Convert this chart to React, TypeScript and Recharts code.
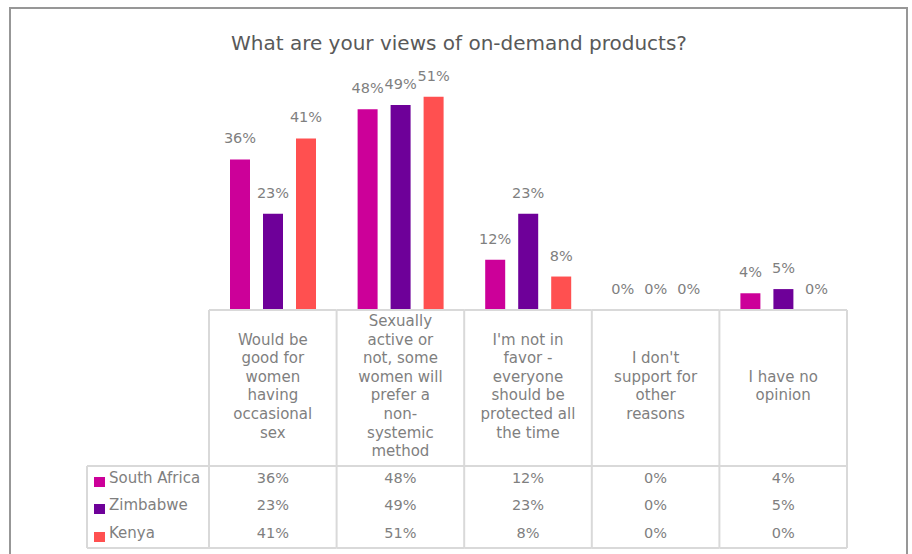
import React from "react";
import { BarChart, Bar, XAxis, YAxis, LabelList } from "recharts";

const FONT = "'DejaVu Sans', Verdana, sans-serif";

const title = "What are your views of on-demand products?";
const categories = [
  "Would be good for women having occasional sex",
  "Sexually active or not, some women will prefer a non-systemic method",
  "I'm not in favor - everyone should be protected all the time",
  "I don't support for other reasons",
  "I have no opinion",
];
const categoryLines = [
  ["Would be", "good for", "women", "having", "occasional", "sex"],
  ["Sexually", "active or", "not, some", "women will", "prefer a", "non-", "systemic", "method"],
  ["I'm not in", "favor -", "everyone", "should be", "protected all", "the time"],
  ["I don't", "support for", "other", "reasons"],
  ["I have no", "opinion"],
];
const seriesNames = ["South Africa", "Zimbabwe", "Kenya"];
const southAfrica = [36, 48, 12, 0, 4];
const zimbabwe = [23, 49, 23, 0, 5];
const kenya = [41, 51, 8, 0, 0];
const seriesValues = [southAfrica, zimbabwe, kenya];
const seriesKeys = ["sa", "zw", "ke"];
const seriesColors = ["#CC0099", "#6E0099", "#FF5050"];

const data = categories.map((c, i) => ({
  category: c,
  sa: southAfrica[i],
  zw: zimbabwe[i],
  ke: kenya[i],
}));

// layout
const W = 912;
const H = 554;
const PLOT_LEFT = 209;
const PLOT_RIGHT = 847;
const PLOT_TOP = 59;
const TABLE_TOP = 310;
const ROW_SEP = 466;
const TABLE_BOTTOM = 548;
const LEGEND_LEFT = 87;
const ROW_CENTERS = [478, 505, 533];
const LINE_H = 18.6;
const CELL_CENTER = 386;
const GRID = "#D9D9D9";
const TEXT = "#7F7F7F";
const BAND = (PLOT_RIGHT - PLOT_LEFT) / categories.length;

const renderTick = (props: any) => {
  const { x, index } = props;
  const cx = Number(x);
  const l = cx - BAND / 2;
  const r = cx + BAND / 2;
  const lines = categoryLines[index] || [];
  const startY =
    lines.length > 7 ? TABLE_TOP + 11 : CELL_CENTER - ((lines.length - 1) * LINE_H) / 2;
  const isLast = index === categories.length - 1;
  return (
    <g>
      <line x1={l} x2={r} y1={TABLE_TOP} y2={TABLE_TOP} stroke={GRID} strokeWidth={2} />
      <line x1={l} x2={r} y1={ROW_SEP} y2={ROW_SEP} stroke={GRID} strokeWidth={2} />
      <line x1={l} x2={r} y1={TABLE_BOTTOM} y2={TABLE_BOTTOM} stroke={GRID} strokeWidth={2} />
      <line x1={l} x2={l} y1={TABLE_TOP} y2={TABLE_BOTTOM} stroke={GRID} strokeWidth={2} />
      {isLast && (
        <line x1={r} x2={r} y1={TABLE_TOP} y2={TABLE_BOTTOM} stroke={GRID} strokeWidth={2} />
      )}
      {lines.map((t, i) => (
        <text
          key={i}
          x={cx}
          y={startY + i * LINE_H}
          textAnchor="middle"
          dominantBaseline="central"
          fontSize={15}
          fontFamily={FONT}
          fill={TEXT}
        >
          {t}
        </text>
      ))}
      {seriesValues.map((vals, si) => (
        <text
          key={"v" + si}
          x={cx}
          y={ROW_CENTERS[si]}
          textAnchor="middle"
          dominantBaseline="central"
          fontSize={14.5}
          fontFamily={FONT}
          fill={TEXT}
        >
          {vals[index]}%
        </text>
      ))}
      {index === 0 && (
        <g>
          <line x1={LEGEND_LEFT} x2={l} y1={ROW_SEP} y2={ROW_SEP} stroke={GRID} strokeWidth={2} />
          <line x1={LEGEND_LEFT} x2={l} y1={TABLE_BOTTOM} y2={TABLE_BOTTOM} stroke={GRID} strokeWidth={2} />
          <line x1={LEGEND_LEFT} x2={LEGEND_LEFT} y1={ROW_SEP} y2={TABLE_BOTTOM} stroke={GRID} strokeWidth={2} />
          {seriesNames.map((n, si) => (
            <g key={"lg" + si}>
              <rect x={94} y={ROW_CENTERS[si] - 1} width={11} height={10} fill={seriesColors[si]} />
              <text
                x={109}
                y={ROW_CENTERS[si]}
                dominantBaseline="central"
                fontSize={15}
                fontFamily={FONT}
                fill={TEXT}
              >
                {n}
              </text>
            </g>
          ))}
        </g>
      )}
    </g>
  );
};

const renderLabel = (props: any) => {
  const { x, y, width, height, value } = props;
  const top = Math.min(Number(y), Number(y) + Number(height));
  return (
    <text
      x={Number(x) + Number(width) / 2}
      y={top - 21}
      textAnchor="middle"
      dominantBaseline="central"
      fontSize={14.5}
      fontFamily={FONT}
      fill={TEXT}
    >
      {value}%
    </text>
  );
};

export default function App() {
  return (
    <div style={{ position: "relative", width: W, height: H, overflow: "hidden", background: "#fff" }}>
      <style>{`body{margin:0;}`}</style>
      <div
        style={{
          position: "absolute",
          left: 9,
          top: 7,
          width: 899,
          height: 600,
          borderLeft: "2px solid #979797",
          borderTop: "2px solid #979797",
          borderRight: "2px solid #979797",
          boxSizing: "border-box",
        }}
      />
      <div
        style={{
          position: "absolute",
          left: 0,
          top: 29,
          width: 918,
          textAlign: "center",
          fontFamily: FONT,
          fontSize: 20,
          color: "#595959",
          lineHeight: "28px",
        }}
      >
        {title}
      </div>
      <div style={{ position: "absolute", left: 0, top: 0 }}>
        <BarChart
          width={W}
          height={H}
          data={data}
          margin={{ top: PLOT_TOP, right: W - PLOT_RIGHT, left: PLOT_LEFT, bottom: 0 }}
          barSize={20}
          barGap={13}
        >
          <XAxis
            dataKey="category"
            height={H - TABLE_TOP}
            axisLine={false}
            tickLine={false}
            interval={0}
            tick={renderTick}
          />
          <YAxis hide domain={[0, 60]} />
          {seriesKeys.map((k, si) => (
            <Bar
              key={k}
              dataKey={k}
              name={seriesNames[si]}
              fill={seriesColors[si]}
              minPointSize={0.01}
              isAnimationActive={false}
            >
              <LabelList dataKey={k} content={renderLabel} />
            </Bar>
          ))}
        </BarChart>
      </div>
    </div>
  );
}
